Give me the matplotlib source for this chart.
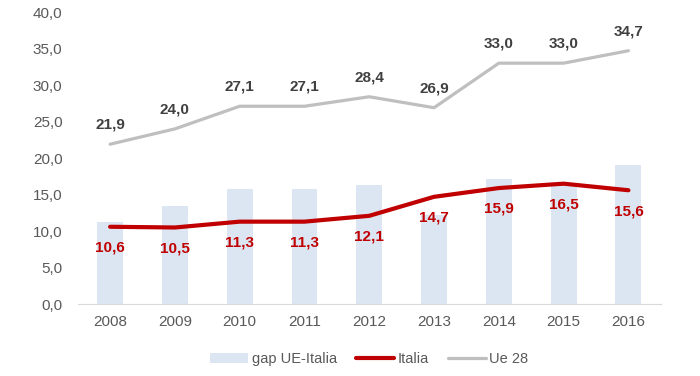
import matplotlib.pyplot as plt
import numpy as np
from matplotlib import font_manager

years = ['2008', '2009', '2010', '2011', '2012', '2013', '2014', '2015', '2016']
italia = [10.6, 10.5, 11.3, 11.3, 12.1, 14.7, 15.9, 16.5, 15.6]
ue28 = [21.9, 24.0, 27.1, 27.1, 28.4, 26.9, 33.0, 33.0, 34.7]
gap = [11.3, 13.5, 15.8, 15.8, 16.3, 12.2, 17.1, 16.5, 19.1]

names = {f.name for f in font_manager.fontManager.ttflist}
fam = 'Liberation Sans Narrow' if 'Liberation Sans Narrow' in names else 'Liberation Sans'
plt.rcParams['font.family'] = [fam, 'DejaVu Sans']

def fmt(v):
    return '{:.1f}'.format(v).replace('.', ',')

fig = plt.figure(figsize=(7, 3.76), dpi=100)
ax = fig.add_axes([0.111, 0.191, 0.833, 0.777])
x = np.arange(len(years))

b = ax.bar(x, gap, width=0.4, color='#DCE6F2', label='gap UE-Italia', zorder=1)
l1, = ax.plot(x, italia, color='#C00000', linewidth=3, label='Italia', zorder=3, solid_capstyle='round')
l2, = ax.plot(x, ue28, color='#BFBFBF', linewidth=2.3, label='Ue 28', zorder=2, solid_capstyle='round')

for i in range(len(years)):
    ax.annotate(fmt(ue28[i]), (x[i], ue28[i]), xytext=(0, 9), textcoords='offset points',
                ha='center', va='bottom', fontsize=11, fontweight='bold', color='#404040')
    ax.annotate(fmt(italia[i]), (x[i], italia[i]), xytext=(0, -10), textcoords='offset points',
                ha='center', va='top', fontsize=11, fontweight='bold', color='#C00000')

ax.set_ylim(0, 40)
ax.set_xlim(-0.5, len(years) - 0.5)
ax.set_yticks(np.arange(0, 40.1, 5))
ax.set_yticklabels([fmt(v) for v in np.arange(0, 40.1, 5)])
ax.set_xticks(x)
ax.set_xticklabels(years)
ax.tick_params(axis='both', length=0, labelsize=11, labelcolor='#595959')
ax.tick_params(axis='y', pad=11)
ax.tick_params(axis='x', pad=8)
for s in ['top', 'right', 'left']:
    ax.spines[s].set_visible(False)
ax.spines['bottom'].set_color('#D9D9D9')

leg = ax.legend([b, l1, l2], ['gap UE-Italia', 'Italia', 'Ue 28'], loc='upper center',
                bbox_to_anchor=(0.5, -0.12), ncol=3, frameon=False,
                fontsize=10.5, handlelength=2.6, handletextpad=0.25, columnspacing=1.3)
for t in leg.get_texts():
    t.set_color('#595959')

fig.savefig('out.png', dpi=100)
